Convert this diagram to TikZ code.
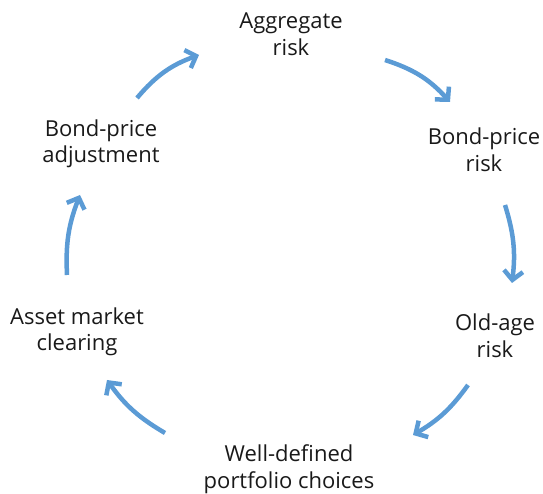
\documentclass[tikz,border=0pt]{standalone}
\usepackage{fontspec}
\setmainfont{Open Sans}
\usetikzlibrary{arrows.meta}
\definecolor{cyc}{HTML}{5B9BD5}
\tikzset{
  lbl/.style={align=center, font=\fontsize{22}{26.5}\selectfont, text=black!90, inner sep=0pt},
  cyca/.style={draw=cyc, line width=4.5pt, -{Straight Barb[length=9pt, width=19pt, line width=4.5pt]}}
}
\begin{document}
\begin{tikzpicture}[x=1pt,y=1pt]
\useasboundingbox (0,0) rectangle (543,494);
\node[lbl] (agg) at (291,460) {Aggregate\\risk};
\node[lbl] (bpr) at (484,344) {Bond-price\\risk};
\node[lbl] (old) at (495,158) {Old-age\\risk};
\node[lbl] (well) at (289,25) {Well-defined\\portfolio choices};
\node[lbl] (asset) at (77,162) {Asset market\\clearing};
\node[lbl] (bpa) at (101,350) {Bond-price\\adjustment};
\coordinate (a1s) at (137,396); \coordinate (a1e) at (199,439);
\coordinate (a2s) at (385,434); \coordinate (a2e) at (450,392);
\coordinate (a3s) at (505,289); \coordinate (a3e) at (512,211);
\coordinate (a4s) at (468,109); \coordinate (a4e) at (413,59);
\coordinate (a5s) at (165,61); \coordinate (a5e) at (107,114);
\coordinate (a6s) at (67,219); \coordinate (a6e) at (80,299);
\draw[cyca] (a1s) to[bend left=15] (a1e);
\draw[cyca] (a2s) to[bend left=15] (a2e);
\draw[cyca] (a3s) to[bend left=12] (a3e);
\draw[cyca] (a4s) to[bend left=12] (a4e);
\draw[cyca] (a5s) to[bend left=12] (a5e);
\draw[cyca] (a6s) to[bend left=12] (a6e);
\end{tikzpicture}
\end{document}
